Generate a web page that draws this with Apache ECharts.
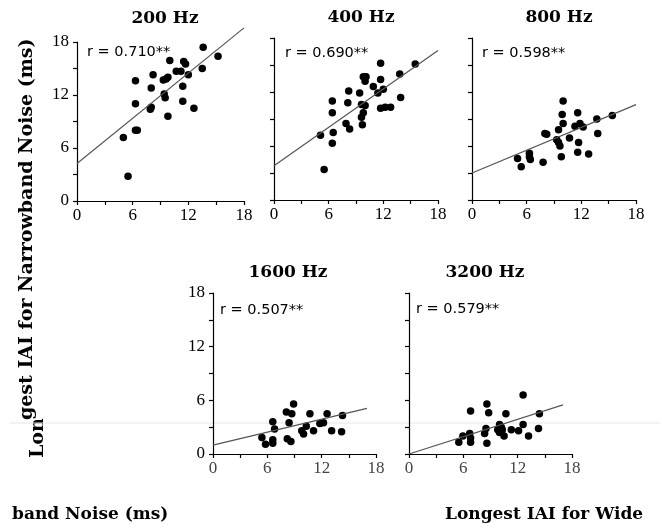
<!DOCTYPE html>
<html><head><meta charset="utf-8">
<script src="https://cdn.jsdelivr.net/npm/echarts@6/dist/echarts.min.js"></script>
<style>html,body{margin:0;padding:0;background:#fff}#c{width:662px;height:529px}</style>
</head><body><div id="c"></div>
<script>
// ---- data ----
const panelTitles = ['200 Hz', '400 Hz', '800 Hz', '1600 Hz', '3200 Hz'];
const rLabels = ['r = 0.710**', 'r = 0.690**', 'r = 0.598**', 'r = 0.507**', 'r = 0.579**'];
const tickValues = [0, 6, 12, 18];

const pts200 = [[13.6,17.4],[15.2,16.4],[13.5,15.0],[10.0,15.9],[11.5,15.8],[11.7,15.5],[10.7,14.7],[11.2,14.7],
  [12.0,14.3],[8.2,14.3],[6.3,13.6],[9.3,13.7],[9.6,13.8],[9.8,14.0],[8.0,12.8],[11.4,13.0],[9.4,12.1],[9.5,11.7],
  [6.3,11.0],[11.4,11.3],[12.6,10.5],[7.9,10.4],[8.0,10.6],[9.8,9.6],[6.3,8.0],[6.5,8.0],[5.0,7.2],[5.5,2.8]];
const fit200 = [[0,4.25],[18,19.6]];

const pts400 = [[15.5,15.1],[13.8,14.0],[11.7,15.2],[9.8,13.7],[10.1,13.7],[10.0,13.2],[11.7,13.4],[10.9,12.6],
  [11.4,11.9],[12.0,12.3],[8.2,12.1],[9.4,11.9],[6.4,11.0],[8.1,10.8],[9.6,10.6],[10.0,10.5],[13.9,11.4],
  [11.7,10.2],[12.2,10.3],[12.8,10.3],[6.4,9.7],[9.8,9.7],[9.6,9.2],[7.9,8.5],[8.3,7.9],[9.7,8.35],[5.1,7.2],
  [6.5,7.5],[6.4,6.3],[5.5,3.4]];
const fit400 = [[0,3.8],[18,16.6]];

const pts800 = [[15.4,9.4],[13.7,9.0],[13.8,7.4],[10.0,11.0],[11.6,9.7],[9.9,9.5],[10.0,8.5],[11.85,8.5],[11.3,8.2],
  [12.2,8.1],[9.5,7.8],[8.0,7.4],[8.2,7.3],[10.7,6.9],[9.3,6.7],[9.5,6.4],[9.65,6.0],[11.7,6.4],[11.6,5.3],
  [12.8,5.1],[9.8,4.8],[6.3,5.2],[6.3,4.8],[6.4,4.5],[5.0,4.6],[5.4,3.7],[7.8,4.2]];
const fit800 = [[0,3.0],[18,10.6]];

const pts1600 = [[8.9,5.6],[8.1,4.7],[8.7,4.5],[10.7,4.5],[12.6,4.5],[14.3,4.3],[6.6,3.6],[8.4,3.5],[10.3,3.1],
  [11.8,3.4],[12.2,3.5],[6.8,2.8],[9.8,2.6],[10.0,2.25],[11.1,2.6],[13.1,2.6],[14.2,2.5],[5.4,1.85],[5.8,1.1],
  [6.6,1.6],[6.6,1.2],[8.2,1.7],[8.6,1.4]];
const fit1600 = [[0,1.0],[17,5.1]];

const pts3200 = [[12.6,6.6],[8.6,5.6],[6.8,4.8],[8.8,4.6],[10.7,4.5],[14.4,4.5],[10.0,3.3],[10.2,3.0],[12.6,3.3],
  [8.5,2.85],[11.3,2.7],[12.1,2.6],[14.3,2.85],[9.8,2.7],[10.0,2.4],[10.3,2.7],[8.35,2.3],[5.95,2.0],[6.7,2.3],
  [6.8,1.8],[6.8,1.3],[5.5,1.3],[10.5,2.0],[13.2,2.0],[8.6,1.2]];
const fit3200 = [[0,0],[17,5.5]];

const yAxisTitleA = 'Lon';
const yAxisTitleB = 'gest IAI for Narrowband Noise (ms)';
const xAxisTitleA = 'band Noise (ms)';
const xAxisTitleB = 'Longest IAI for Wide';

// ---- layout ----
const grids = [
  {left: 77, top: 42, width: 167, height: 159},
  {left: 274, top: 38, width: 164, height: 162},
  {left: 472, top: 38, width: 164, height: 162},
  {left: 213, top: 293, width: 163, height: 161},
  {left: 409, top: 293, width: 163, height: 161}
];
const showYLabels = [true, false, false, true, false];
const ptsAll = [pts200, pts400, pts800, pts1600, pts3200];
const fitAll = [fit200, fit400, fit800, fit1600, fit3200];
const titlePos = [[165,19],[361,18],[559,18],[288,273],[485,273]];
const rPos = [[87,52],[285,53],[482,53],[220,310],[416,309]];

const labelFmt = v => (tickValues.indexOf(v) >= 0 ? String(v) : '');
const axisCommon = {
  type: 'value', min: 0, max: 18, interval: 3,
  axisLine: {show: true, lineStyle: {color: '#000', width: 1.2}},
  axisTick: {show: true, length: 4, lineStyle: {color: '#000', width: 1.2}},
  splitLine: {show: false}
};

const option = {
  animation: false,
  backgroundColor: '#fff',
  grid: grids.map(g => Object.assign({containLabel: false}, g)),
  xAxis: grids.map((g, i) => Object.assign({}, axisCommon, {
    gridIndex: i,
    axisLabel: {formatter: labelFmt, color: i >= 3 ? '#444' : '#000', fontFamily: 'Liberation Serif', fontSize: 17, margin: 6, showMinLabel: true, showMaxLabel: true}
  })),
  yAxis: grids.map((g, i) => Object.assign({}, axisCommon, {
    gridIndex: i,
    axisLabel: {show: showYLabels[i], formatter: labelFmt, color: '#000', fontFamily: 'Liberation Serif', fontSize: 17, margin: 8}
  })),
  series: [],
  graphic: []
};

ptsAll.forEach((p, i) => {
  option.series.push({
    type: 'scatter', xAxisIndex: i, yAxisIndex: i, data: p,
    symbol: 'circle', symbolSize: 7.5, itemStyle: {color: '#000', opacity: 1}, silent: true
  });
  option.series.push({
    type: 'line', xAxisIndex: i, yAxisIndex: i, data: fitAll[i], clip: false,
    symbol: 'none', lineStyle: {color: '#555', width: 1.2}, silent: true
  });
});

panelTitles.forEach((t, i) => {
  option.graphic.push({type: 'text', x: titlePos[i][0], y: titlePos[i][1],
    style: {text: t, font: 'bold 17px "DejaVu Serif"', fill: '#000', align: 'center', verticalAlign: 'middle'}});
  option.graphic.push({type: 'text', x: rPos[i][0], y: rPos[i][1],
    style: {text: rLabels[i], font: '14.5px "DejaVu Sans"', fill: '#000', align: 'left', verticalAlign: 'middle'}});
});

// axis titles
option.graphic.push({type: 'text', x: 38, y: 458, rotation: Math.PI / 2,
  style: {text: yAxisTitleA, font: 'bold 19px "DejaVu Serif"', fill: '#000', align: 'left', verticalAlign: 'middle'}});
option.graphic.push({type: 'text', x: 27, y: 420, rotation: Math.PI / 2,
  style: {text: yAxisTitleB, font: 'bold 19px "DejaVu Serif"', fill: '#000', align: 'left', verticalAlign: 'middle'}});
option.graphic.push({type: 'text', x: 12, y: 515,
  style: {text: xAxisTitleA, font: 'bold 17px "DejaVu Serif"', fill: '#000', align: 'left', verticalAlign: 'middle'}});
option.graphic.push({type: 'text', x: 445, y: 515,
  style: {text: xAxisTitleB, font: 'bold 17px "DejaVu Serif"', fill: '#000', align: 'left', verticalAlign: 'middle'}});
// faint artifact line across the lower panels
option.graphic.push({type: 'line', shape: {x1: 10, y1: 423, x2: 660, y2: 423},
  style: {stroke: '#e6e6e6', lineWidth: 1}});

const chart = echarts.init(document.getElementById('c'), null, {renderer: 'canvas'});
chart.setOption(option);
</script></body></html>
